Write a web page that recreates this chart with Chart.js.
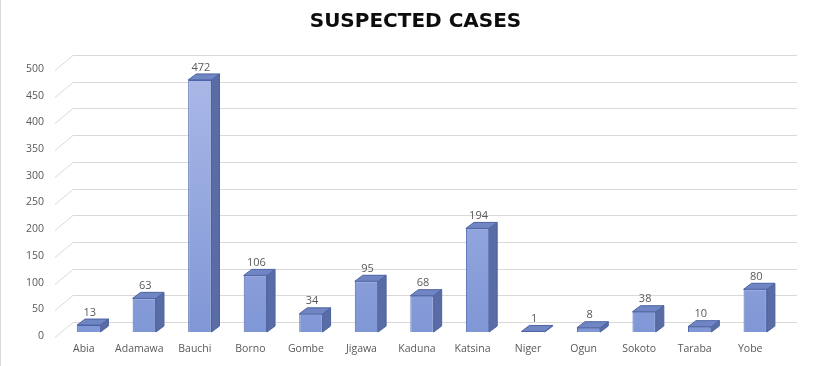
<!DOCTYPE html>
<html>
<head>
<meta charset="utf-8">
<script src="https://cdn.jsdelivr.net/npm/chart.js@4.4.1/dist/chart.umd.min.js"></script>
<style>
  html, body { margin: 0; padding: 0; background: #fff; }
  #wrap { width: 831px; height: 366px; position: relative; }
  #wrap:before { content: ''; position: absolute; left: 0; top: 0; bottom: 0; width: 1px; background: #d9d9d9; }
</style>
</head>
<body>
<div id="wrap"><canvas id="chart" width="831" height="366"></canvas></div>
<script>
const states = ['Abia', 'Adamawa', 'Bauchi', 'Borno', 'Gombe', 'Jigawa', 'Kaduna', 'Katsina', 'Niger', 'Ogun', 'Sokoto', 'Taraba', 'Yobe']
const suspectedCases = [13, 63, 472, 106, 34, 95, 68, 194, 1, 8, 38, 10, 80]
const yMax = 500
const yStep = 50

// fake 3d depth of the excel style chart
const depthX = 8
const depthY = 6
const wallX = 12
const wallY = 10

const gridPlugin = {
    id: 'backWall',
    beforeDatasetsDraw(chart) {
        const ctx = chart.ctx
        const area = chart.chartArea
        const yScale = chart.scales.y
        ctx.save()
        ctx.strokeStyle = '#d9d9d9'
        ctx.lineWidth = 1
        yScale.ticks.forEach(t => {
            const y = Math.round(yScale.getPixelForValue(t.value)) + 0.5
            ctx.beginPath()
            ctx.moveTo(area.left - 6, y + 5)
            ctx.lineTo(area.left + wallX, y - wallY)
            ctx.lineTo(area.right + 14, y - wallY)
            ctx.stroke()
        })
        ctx.restore()
    }
}

const facesPlugin = {
    id: 'barFaces',
    afterDatasetsDraw(chart) {
        const ctx = chart.ctx
        const meta = chart.getDatasetMeta(0)
        ctx.save()
        ctx.lineWidth = 1
        ctx.strokeStyle = '#4d62a0'
        meta.data.forEach((bar, i) => {
            const left = bar.x - bar.width / 2
            const right = bar.x + bar.width / 2
            const top = bar.y
            const base = bar.base
            // side
            ctx.fillStyle = '#5a6ca5'
            ctx.beginPath()
            ctx.moveTo(right, top)
            ctx.lineTo(right + depthX, top - depthY)
            ctx.lineTo(right + depthX, base - depthY)
            ctx.lineTo(right, base)
            ctx.closePath()
            ctx.fill()
            ctx.stroke()
            // top
            ctx.fillStyle = '#7086c4'
            ctx.beginPath()
            ctx.moveTo(left, top)
            ctx.lineTo(left + depthX, top - depthY)
            ctx.lineTo(right + depthX, top - depthY)
            ctx.lineTo(right, top)
            ctx.closePath()
            ctx.fill()
            ctx.stroke()
            // value label
            ctx.fillStyle = '#595959'
            ctx.font = '11px "Open Sans"'
            ctx.textAlign = 'center'
            ctx.textBaseline = 'bottom'
            ctx.fillText(String(suspectedCases[i]), bar.x + 1, top - depthY - 1)
        })
        ctx.restore()
    }
}

function frontGradient(context) {
    const chart = context.chart
    const area = chart.chartArea
    if (!area) return '#8fa2dc'
    const g = chart.ctx.createLinearGradient(0, area.top, 0, area.bottom)
    g.addColorStop(0, '#abb9e7')
    g.addColorStop(1, '#8097d6')
    return g
}

const ctx = document.getElementById('chart').getContext('2d')
const chart = new Chart(ctx, {
    type: 'bar',
    data: {
        labels: states,
        datasets: [{
            label: 'Suspected cases',
            data: suspectedCases,
            backgroundColor: frontGradient,
            borderColor: '#4d66ad',
            borderWidth: 1,
            barPercentage: 0.42,
            categoryPercentage: 1,
        }]
    },
    options: {
        responsive: false,
        animation: false,
        layout: { padding: 0 },
        plugins: {
            legend: { display: false },
            tooltip: { enabled: false },
            title: {
                display: true,
                text: 'SUSPECTED CASES',
                color: '#0d0d0d',
                font: { family: '"DejaVu Sans"', size: 20, weight: 'bold' },
                padding: { top: 10, bottom: 31 }
            }
        },
        scales: {
            x: {
                grid: { display: false, drawTicks: false },
                border: { display: false },
                ticks: {
                    color: '#595959',
                    font: { family: '"Open Sans"', size: 10.5 },
                    padding: 11,
                    labelOffset: -5,
                    maxRotation: 0,
                    autoSkip: false
                },
                afterFit(scale) { scale.height = 34 }
            },
            y: {
                min: 0,
                max: yMax,
                grid: { display: false, drawTicks: false },
                border: { display: false },
                ticks: {
                    stepSize: yStep,
                    color: '#595959',
                    font: { family: '"Open Sans"', size: 10.5 },
                    padding: 17,
                    labelOffset: 4
                },
                afterFit(scale) { scale.width = 61 }
            },
            // empty right axis, only keeps room for the back wall
            yRight: {
                position: 'right',
                min: 0,
                max: yMax,
                grid: { display: false, drawTicks: false },
                border: { display: false },
                ticks: { display: false },
                afterFit(scale) { scale.width = 48 }
            }
        }
    },
    plugins: [gridPlugin, facesPlugin]
})
</script>
</body>
</html>
